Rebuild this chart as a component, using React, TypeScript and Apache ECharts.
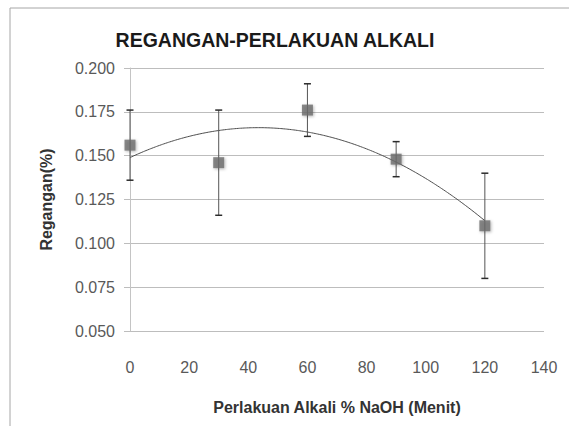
import React, { useEffect, useRef } from "react";
import * as echarts from "echarts";

const xValues = [0, 30, 60, 90, 120];
const yValues = [0.156, 0.146, 0.176, 0.148, 0.11];
const errUpper = [0.176, 0.176, 0.191, 0.158, 0.14];
const errLower = [0.136, 0.116, 0.161, 0.138, 0.08];
const yTicks = ["0.050", "0.075", "0.100", "0.125", "0.150", "0.175", "0.200"];
const xTicks = [0, 20, 40, 60, 80, 100, 120, 140];

// 2nd-order polynomial least-squares trendline computed from the data
function polyFit2(xs: number[], ys: number[]) {
  const n = xs.length;
  let s1 = 0, s2 = 0, s3 = 0, s4 = 0, t0 = 0, t1 = 0, t2 = 0;
  for (let i = 0; i < n; i++) {
    const x = xs[i], y = ys[i];
    s1 += x; s2 += x * x; s3 += x ** 3; s4 += x ** 4;
    t0 += y; t1 += x * y; t2 += x * x * y;
  }
  const M = [
    [n, s1, s2, t0],
    [s1, s2, s3, t1],
    [s2, s3, s4, t2],
  ];
  for (let i = 0; i < 3; i++) {
    for (let k = i + 1; k < 3; k++) {
      const f = M[k][i] / M[i][i];
      for (let j = i; j < 4; j++) M[k][j] -= f * M[i][j];
    }
  }
  const c = [0, 0, 0];
  for (let i = 2; i >= 0; i--) {
    let s = M[i][3];
    for (let j = i + 1; j < 3; j++) s -= M[i][j] * c[j];
    c[i] = s / M[i][i];
  }
  return c;
}

export default function App() {
  const ref = useRef<HTMLDivElement>(null);
  useEffect(() => {
    document.body.style.margin = "0";
    const chart = echarts.init(ref.current!, null, { renderer: "svg" });
    const c = polyFit2(xValues, yValues);
    const trend: number[][] = [];
    for (let x = xValues[0]; x <= xValues[xValues.length - 1]; x += 2) {
      trend.push([x, c[0] + c[1] * x + c[2] * x * x]);
    }
    const font = "'Liberation Sans', Arial, sans-serif";
    chart.setOption({
      animation: false,
      backgroundColor: "#ffffff",
      title: {
        text: "REGANGAN-PERLAKUAN ALKALI",
        left: 270,
        top: 25,
        textAlign: "center",
        textStyle: { fontFamily: font, fontSize: 19.5, fontWeight: "bold", color: "#1a1a1a" },
      },
      graphic: [
        {
          type: "rect",
          shape: { x: 10, y: 8, width: 700, height: 600 },
          style: { fill: "none", stroke: "#a6a6a6", lineWidth: 1 },
          silent: true,
        },
      ],
      grid: { left: 130, right: 25, top: 68, bottom: 95 },
      xAxis: {
        type: "value",
        min: 0,
        max: 140,
        interval: 20,
        name: "Perlakuan Alkali % NaOH (Menit)",
        nameLocation: "middle",
        nameGap: 68,
        nameTextStyle: { fontFamily: font, fontSize: 16, fontWeight: "bold", color: "#333" },
        axisLine: { show: false },
        axisTick: { show: false },
        splitLine: { show: false },
        axisLabel: {
          fontFamily: font,
          fontSize: 16,
          color: "#595959",
          margin: 28,
          formatter: (v: number) => (xTicks.includes(v) ? String(v) : ""),
        },
      },
      yAxis: {
        type: "value",
        min: 0.05,
        max: 0.2,
        interval: 0.025,
        name: "Regangan(%)",
        nameLocation: "middle",
        nameGap: 76,
        nameRotate: 90,
        nameTextStyle: { fontFamily: font, fontSize: 16, fontWeight: "bold", color: "#333" },
        axisLine: { show: true, lineStyle: { color: "#c4c4c4" } },
        axisTick: { show: true, length: 6, lineStyle: { color: "#bdbdbd" } },
        splitLine: { show: true, lineStyle: { color: "#bdbdbd", width: 1 } },
        axisLabel: {
          fontFamily: font,
          fontSize: 16,
          color: "#595959",
          margin: 15,
          formatter: (v: number) => {
            const s = v.toFixed(3);
            return yTicks.includes(s) ? s : "";
          },
        },
      },
      series: [
        {
          type: "line",
          data: trend,
          showSymbol: false,
          smooth: true,
          lineStyle: { color: "#4d4d4d", width: 1 },
          silent: true,
          z: 2,
        },
        {
          type: "custom",
          data: xValues.map((x, i) => [x, errLower[i], errUpper[i]]),
          renderItem: (params: any, api: any) => {
            const x = api.value(0);
            const lo = api.coord([x, api.value(1)]);
            const hi = api.coord([x, api.value(2)]);
            const cap = 3.5;
            const style = { stroke: "#2b2b2b", lineWidth: 1.5 };
            return {
              type: "group",
              children: [
                { type: "line", shape: { x1: lo[0], y1: lo[1], x2: hi[0], y2: hi[1] }, style: { stroke: "#555", lineWidth: 1 } },
                { type: "line", shape: { x1: lo[0] - cap, y1: lo[1], x2: lo[0] + cap, y2: lo[1] }, style },
                { type: "line", shape: { x1: hi[0] - cap, y1: hi[1], x2: hi[0] + cap, y2: hi[1] }, style },
              ],
            };
          },
          z: 3,
        },
        {
          type: "scatter",
          data: xValues.map((x, i) => [x, yValues[i]]),
          symbol: "rect",
          symbolSize: 11,
          itemStyle: {
            color: "#6a6a6a",
            shadowBlur: 3,
            shadowColor: "rgba(0,0,0,0.35)",
            shadowOffsetX: 1,
            shadowOffsetY: 1,
          },
          z: 4,
        },
      ],
    });
    return () => chart.dispose();
  }, []);
  return <div ref={ref} style={{ width: 569, height: 426 }} />;
}
